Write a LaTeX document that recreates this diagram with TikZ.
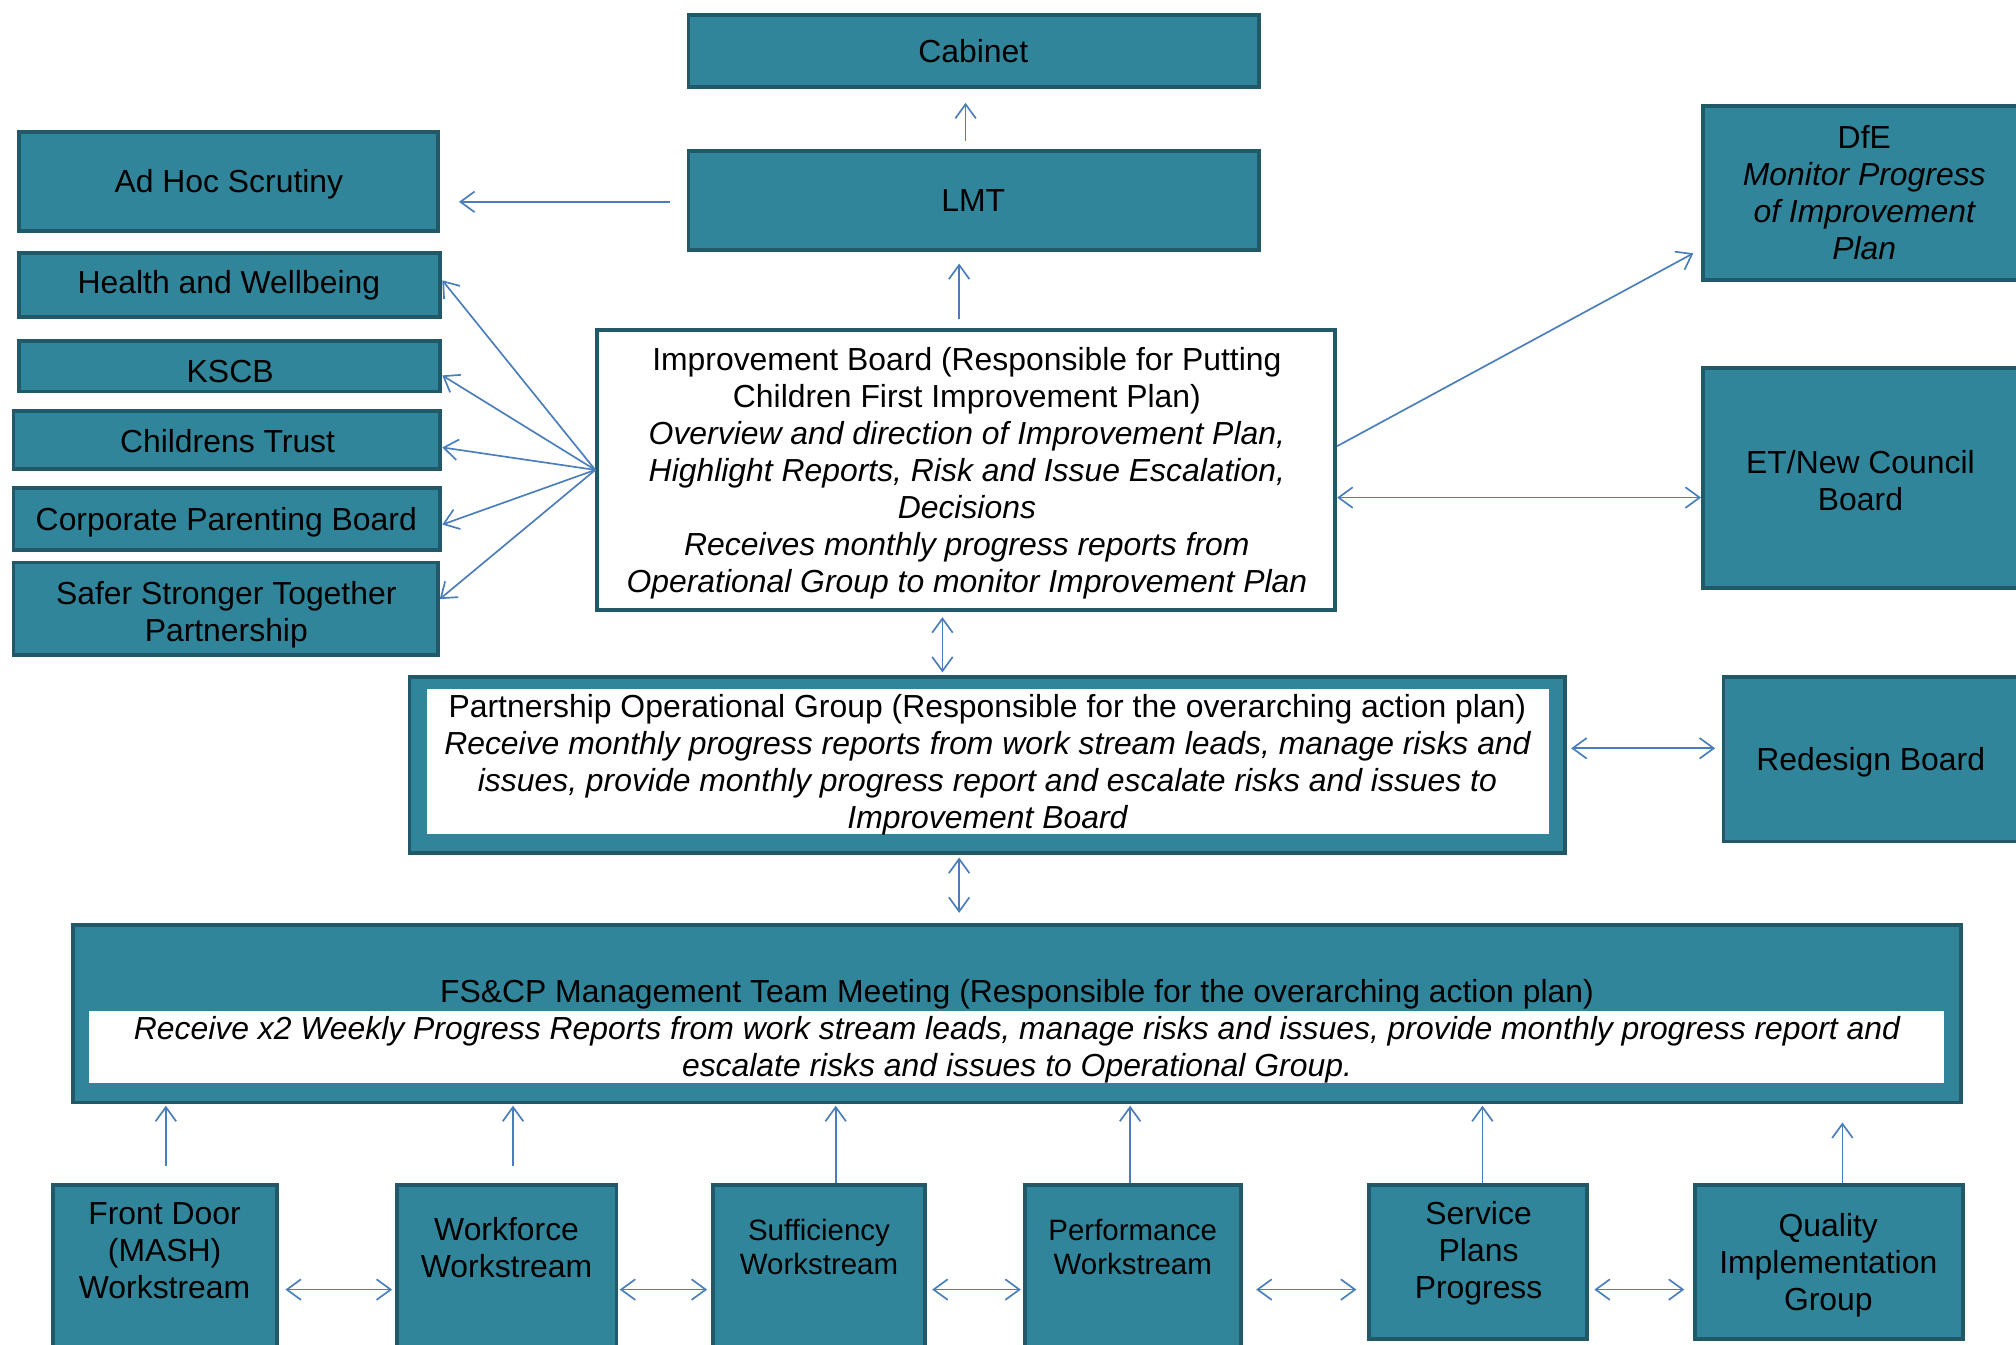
\documentclass[tikz,border=0pt]{standalone}
\usepackage{fontspec}
\setmainfont{Liberation Sans}
\usetikzlibrary{arrows.meta}
\definecolor{boxfill}{RGB}{49,133,155}
\definecolor{boxline}{RGB}{33,89,104}
\definecolor{arrcol}{RGB}{74,126,187}
\begin{document}
\begin{tikzpicture}[x=1pt,y=-1pt,
  tbox/.style={draw=boxline, fill=boxfill, line width=3pt, inner sep=0pt},
  wbox/.style={draw=boxline, fill=white, line width=3pt, inner sep=0pt},
  txt/.style={font=\fontsize{24.8}{28.7}\selectfont, align=center, inner sep=0pt},
  stxt/.style={font=\fontsize{22.9}{26.4}\selectfont, align=center, inner sep=0pt},
  arr/.style={draw=arrcol, line width=1.3pt, -{Straight Barb[length=11pt,width=16pt]}},
  darr/.style={draw=arrcol, line width=1.3pt, {Straight Barb[length=11pt,width=16pt]}-{Straight Barb[length=11pt,width=16pt]}}]
\useasboundingbox (0,0) rectangle (1568,1046);
\clip (0,0) rectangle (1568,1046);
\fill[white] (0,0) rectangle (1568,1046);

% top
\node[tbox, minimum width=444pt, minimum height=56pt] (cab) at (757.5,39.5) {};
\node[txt] (cab-t) at (757,40) {Cabinet};
\node[tbox, minimum width=444pt, minimum height=77pt] (lmt) at (757.5,156) {};
\node[txt] (lmt-t) at (757,156) {LMT};

% left column
\node[tbox, minimum width=326pt, minimum height=77pt] (adhoc) at (177.5,141) {};
\node[txt] (adhoc-t) at (178,143) {Ad Hoc Scrutiny};
\node[tbox, minimum width=328pt, minimum height=50pt] (hw) at (178.5,221.5) {};
\node[txt] (hw-t) at (178,222) {Health and Wellbeing};
\node[tbox, minimum width=328pt, minimum height=39pt] (kscb) at (178.5,285) {};
\node[txt] (kscb-t) at (179,289) {KSCB};
\node[tbox, minimum width=332pt, minimum height=45pt] (ct) at (176.5,342) {};
\node[txt] (ct-t) at (177,343) {Childrens Trust};
\node[tbox, minimum width=332pt, minimum height=48pt] (cpb) at (176.5,403.5) {};
\node[txt] (cpb-t) at (176,406) {Corporate Parenting Board};
\node[tbox, minimum width=330pt, minimum height=72pt] (sst) at (175.5,473.5) {};
\node[txt] (sst-t) at (176,478) {Safer Stronger Together\\Partnership};

% improvement board
\node[wbox, minimum width=574pt, minimum height=218pt] (ib) at (751.5,365.5) {};
\node[txt] (ib-t) at (752,368) {Improvement Board (Responsible for Putting\\Children First Improvement Plan)\\
  \itshape Overview and direction of Improvement Plan,\\\itshape Highlight Reports, Risk and Issue Escalation,\\\itshape Decisions\\
  \itshape Receives monthly progress reports from\\\itshape Operational Group to monitor Improvement Plan};

% right column
\node[tbox, minimum width=251pt, minimum height=135pt] (dfe) at (1450,150) {};
\node[txt] (dfe-t) at (1450,150) {DfE\\\itshape Monitor Progress\\\itshape of Improvement\\\itshape Plan};
\node[tbox, minimum width=251pt, minimum height=171pt] (et) at (1450,372) {};
\node[txt] (et-t) at (1447,374) {ET/New Council\\Board};
\node[tbox, minimum width=229pt, minimum height=128pt] (rb) at (1455,590.5) {};
\node[txt] (rb-t) at (1455,593) {Redesign Board};

% partnership operational group
\node[tbox, minimum width=899pt, minimum height=137pt] (pog) at (768,595) {};
\fill[white] (332,536) rectangle (1205,649);
\node[txt] (pog-t) at (768,595) {Partnership Operational Group (Responsible for the overarching action plan)\\
  \itshape Receive monthly progress reports from work stream leads, manage risks and\\
  \itshape issues, provide monthly progress report and escalate risks and issues to\\
  \itshape Improvement Board};

% FS&CP
\node[tbox, minimum width=1469pt, minimum height=138pt] (fs) at (791,788.5) {};
\fill[white] (69,786) rectangle (1512,842);
\node[txt] (fs-t) at (791,802) {FS\&CP Management Team Meeting (Responsible for the overarching action plan)\\
  \itshape Receive x2 Weekly Progress Reports from work stream leads, manage risks and issues, provide monthly progress report and\\
  \itshape escalate risks and issues to Operational Group.};

% workstreams
\node[tbox, minimum width=174pt, minimum height=157pt] (fd) at (128.5,1000) {};
\node[txt] (fd-t) at (128,973) {Front Door\\(MASH)\\Workstream};
\node[tbox, minimum width=171pt, minimum height=157pt] (wf) at (394,1000) {};
\node[txt] (wf-t) at (394,970.5) {Workforce\\Workstream};
\node[tbox, minimum width=165pt, minimum height=157pt] (suf) at (637,1000) {};
\node[stxt] (suf-t) at (637,970) {Sufficiency\\Workstream};
\node[tbox, minimum width=168pt, minimum height=157pt] (perf) at (881.5,1000) {};
\node[stxt] (perf-t) at (881,970) {Performance\\Workstream};
\node[tbox, minimum width=170pt, minimum height=120pt] (spp) at (1149.5,981.5) {};
\node[txt] (spp-t) at (1150,975) {Service\\Plans\\Progress};
\node[tbox, minimum width=208pt, minimum height=120pt] (qig) at (1422.5,981.5) {};
\node[txt] (qig-t) at (1422,984) {Quality\\Implementation\\Group};

% arrows top
\draw[arr, shorten <=6pt, shorten >=11pt] ([xshift=-6.5pt]lmt.north) -- ([xshift=-6.5pt]lmt.north |- cab.south);
\coordinate (ibN) at ([xshift=-5.5pt]ib.north);
\draw[arr, shorten <=7pt, shorten >=9pt] (ibN) -- (ibN |- lmt.south);
\coordinate (lmtW) at ([yshift=-1pt]lmt.west);
\draw[arr, shorten <=13pt, shorten >=15pt] (lmtW) -- (lmtW -| adhoc.east);

% fan to left column
\draw[arr] (ib.west) -- ([yshift=3.5pt]hw.east);
\draw[arr] (ib.west) -- ([yshift=-7pt]kscb.east);
\draw[arr] (ib.west) -- ([yshift=-6pt]ct.east);
\draw[arr] (ib.west) -- ([yshift=-4.5pt]cpb.east);
\draw[arr] (ib.west) -- ([yshift=7.5pt]sst.east);

% right side
\draw[arr] ([yshift=18.5pt]ib.east) -- ([xshift=-6pt,yshift=-47pt]dfe.west);
\coordinate (ibE) at ([yshift=-21.5pt]ib.east);
\draw[darr] (ibE) -- (ibE -| et.west);

% middle
\coordinate (ibS) at ([xshift=-18.5pt]ib.south);
\draw[darr, shorten <=4pt, shorten >=2pt] (ibS) -- (ibS |- pog.north);
\coordinate (pogE) at ([yshift=13pt]pog.east);
\draw[darr, shorten <=3pt, shorten >=5pt] (pogE) -- (pogE -| rb.west);
\coordinate (pogS) at ([xshift=-22pt]pog.south);
\draw[darr, shorten <=2pt, shorten >=8pt] (pogS) -- (pogS |- fs.north);

% workstreams up
\coordinate (fdN) at ([xshift=0.5pt]fd.north);
\draw[arr, shorten <=13pt, shorten >=1pt] (fdN) -- (fdN |- fs.south);
\coordinate (wfN) at ([xshift=5pt]wf.north);
\draw[arr, shorten <=13pt, shorten >=1pt] (wfN) -- (wfN |- fs.south);
\coordinate (sufN) at ([xshift=13pt]suf.north);
\draw[arr, shorten >=1pt] (sufN) -- (sufN |- fs.south);
\coordinate (perfN) at ([xshift=-2.5pt]perf.north);
\draw[arr, shorten >=1pt] (perfN) -- (perfN |- fs.south);
\coordinate (sppN) at ([xshift=3.5pt]spp.north);
\draw[arr, shorten >=1pt] (sppN) -- (sppN |- fs.south);
\coordinate (qigN) at ([xshift=10.5pt]qig.north);
\draw[arr, shorten >=14pt] (qigN) -- (qigN |- fs.south);

% workstreams horizontal
\coordinate (fdE) at ([yshift=-3pt]fd.east);
\draw[darr, shorten <=5pt, shorten >=2pt] (fdE) -- (fdE -| wf.west);
\coordinate (wfE) at ([yshift=-3pt]wf.east);
\draw[darr, shorten <=1pt, shorten >=3pt] (wfE) -- (wfE -| suf.west);
\coordinate (sufE) at ([yshift=-3pt]suf.east);
\draw[darr, shorten <=4pt, shorten >=2pt] (sufE) -- (sufE -| perf.west);
\coordinate (perfE) at ([yshift=-3pt]perf.east);
\draw[darr, shorten <=10pt, shorten >=8pt] (perfE) -- (perfE -| spp.west);
\coordinate (sppE) at ([yshift=-21.5pt]spp.east);
\draw[darr, shorten <=4pt, shorten >=7pt] (sppE) -- (sppE -| qig.west);
\end{tikzpicture}
\end{document}
